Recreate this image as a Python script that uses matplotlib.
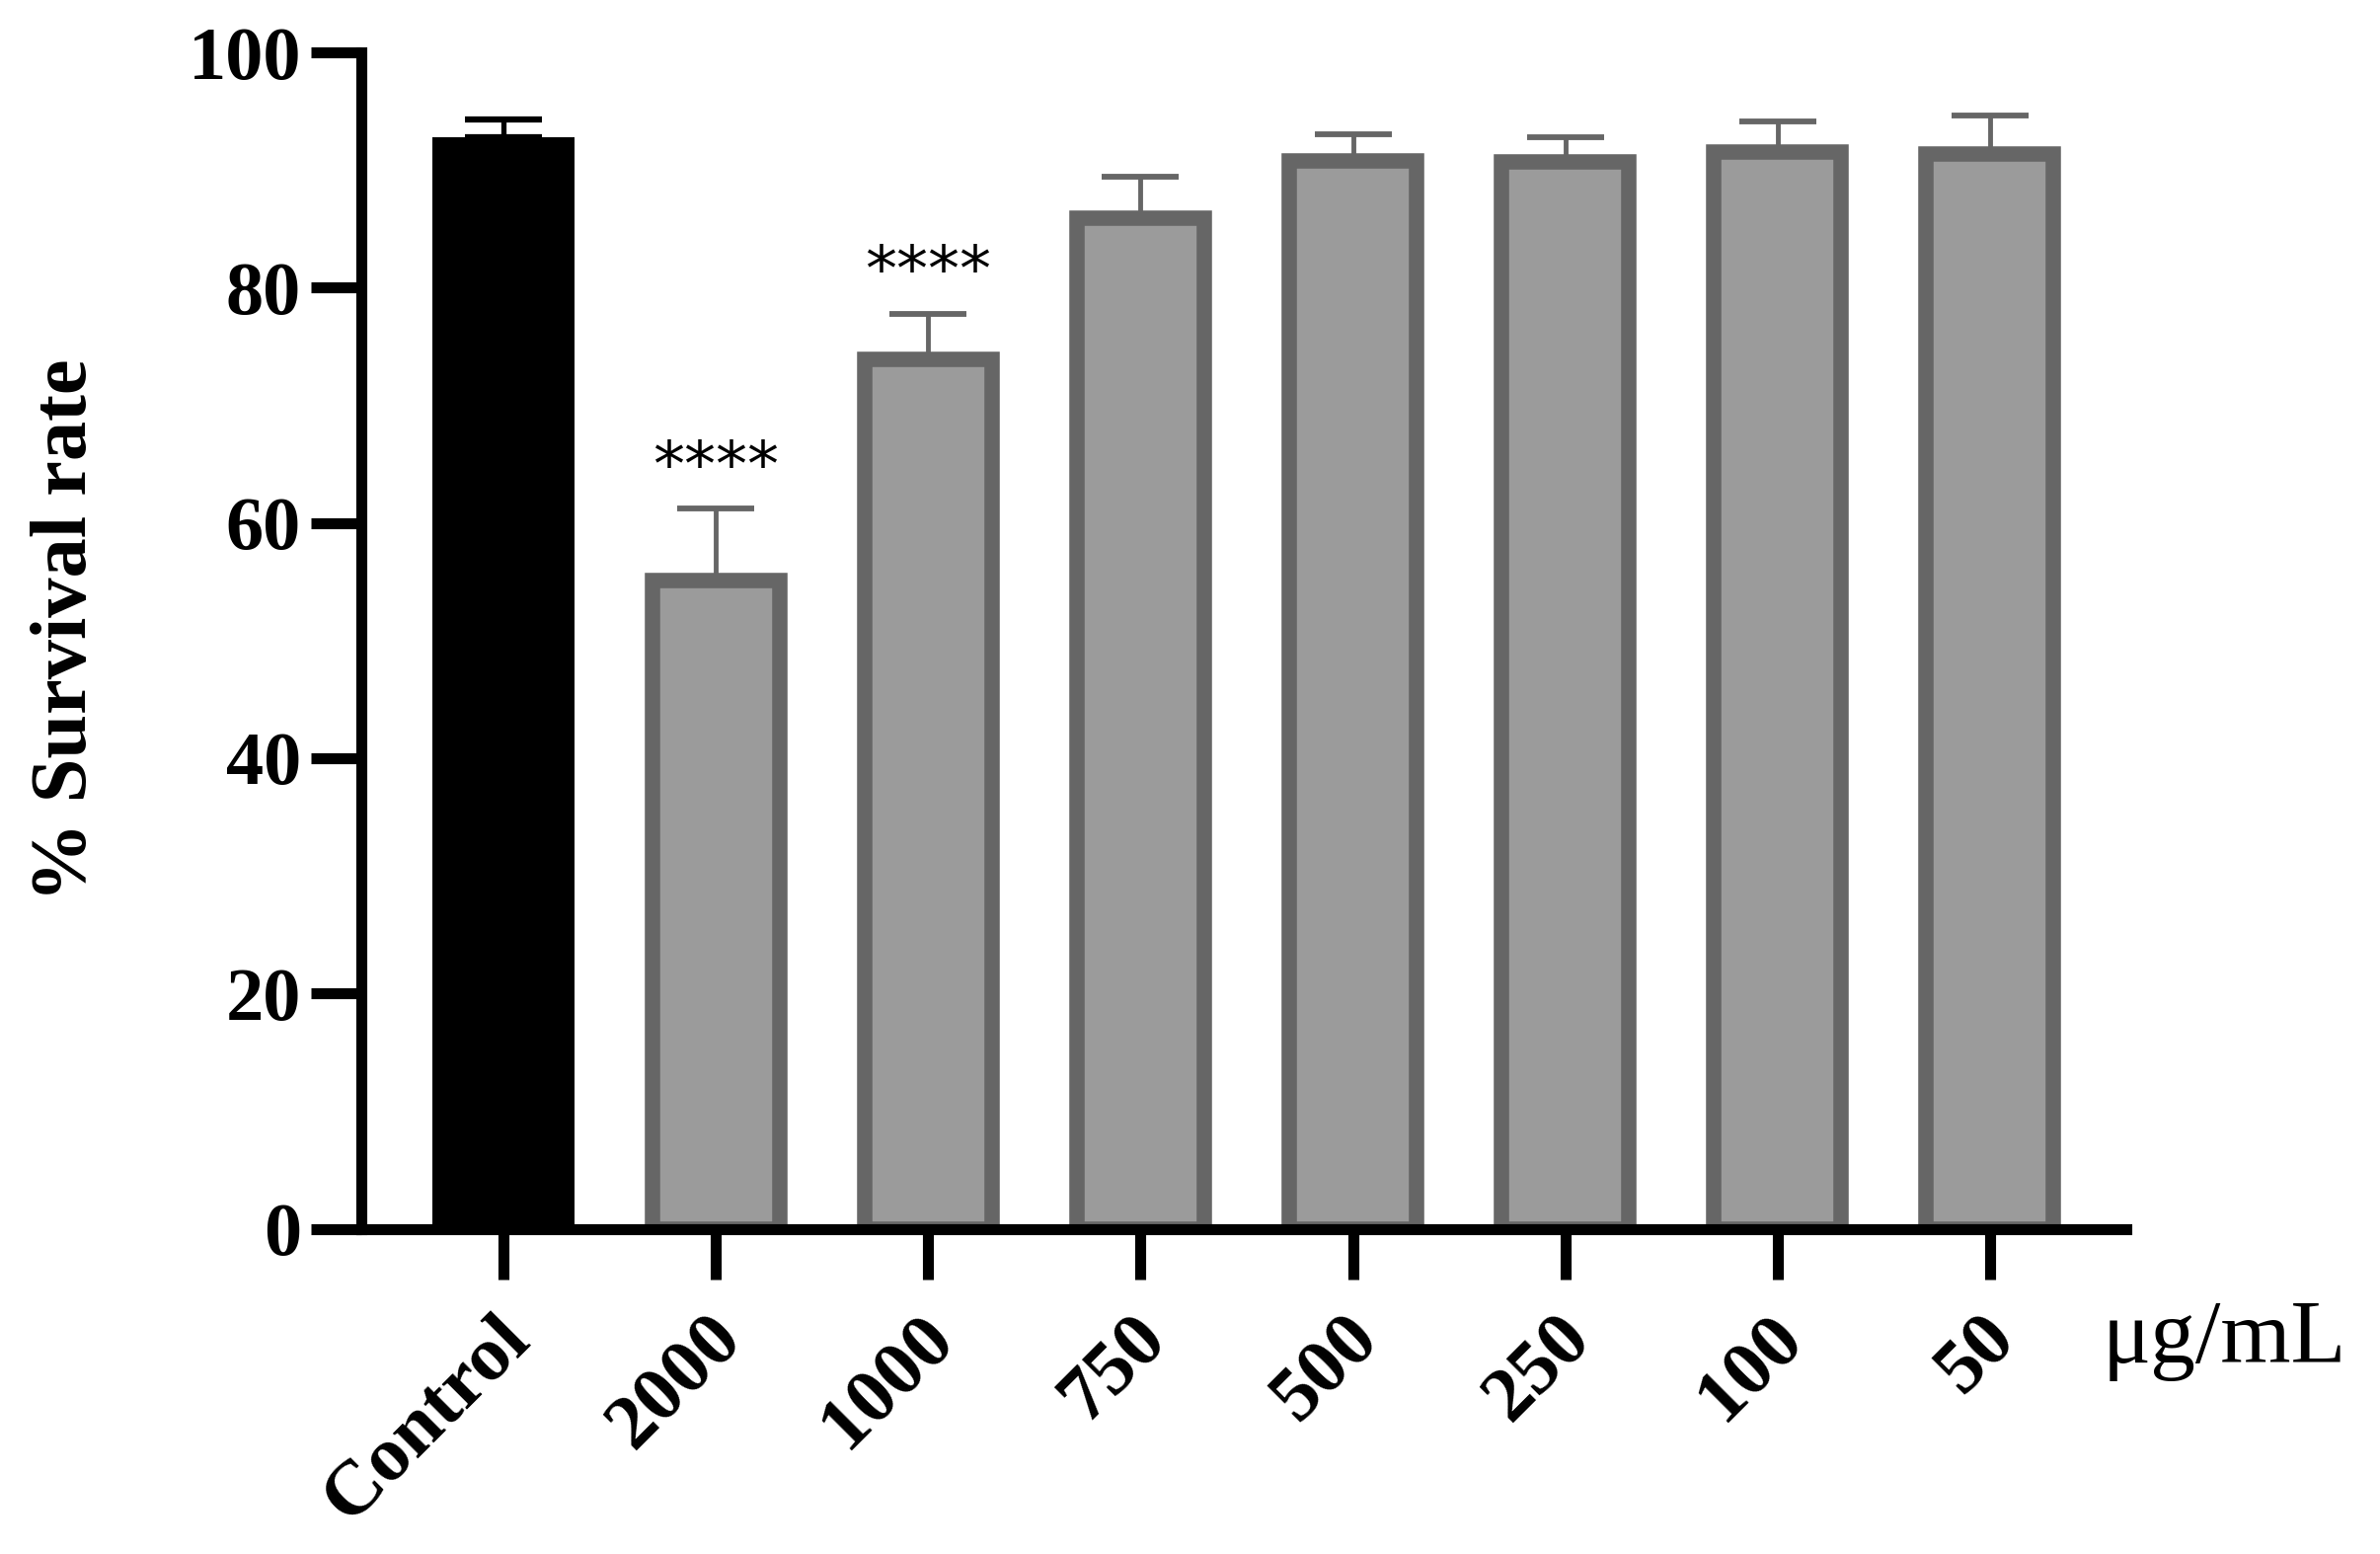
import numpy as np
import matplotlib
matplotlib.use("Agg")
from matplotlib import pyplot as plt
from matplotlib import transforms

# 数据
groups = ['Control', '2000', '1000', '750', '500', '250', '100', '50']
survival = [92.8, 55.1, 73.9, 85.9, 90.8, 90.7, 91.5, 91.4]
err_upper = [1.5, 6.1, 3.9, 3.5, 2.2, 2.1, 2.6, 3.2]
signif = ['', '****', '****', '', '', '', '', '']
yticks = [0, 20, 40, 60, 80, 100]

x = np.arange(len(groups))
survival = np.array(survival)
err_upper = np.array(err_upper)

fig = plt.figure(figsize=(24.11, 15.74), dpi=100)
ax = fig.add_axes([0.1518, 0.2093, 0.8932 - 0.1518, 0.9663 - 0.2093])

fill = ['black'] + ['#9b9b9b'] * 7
edge = ['black'] + ['#666666'] * 7
widths = [0.67] + [0.60] * 7
lws = [0] + [11.2] * 7
ax.bar(x, survival, width=widths, color=fill, edgecolor=edge, linewidth=lws, zorder=2)

# 误差线（只画上方）
ax.errorbar(x[:1], survival[:1], yerr=[np.zeros(1), err_upper[:1]], fmt='none',
            ecolor='black', elinewidth=3.8, capsize=28, capthick=4.5, zorder=1)
ax.errorbar(x[1:], survival[1:], yerr=[np.zeros(7), err_upper[1:]], fmt='none',
            ecolor='#666666', elinewidth=3.5, capsize=28, capthick=4.2, zorder=1)

for i, s in enumerate(signif):
    if s:
        ax.text(x[i], survival[i] + err_upper[i] + 2.0, s, ha='center', va='baseline',
                fontsize=46, family='DejaVu Sans', color='black')

ax.set_xlim(-0.67, 7.64)
ax.set_ylim(0, 100)
for side in ['top', 'right']:
    ax.spines[side].set_visible(False)
for side in ['left', 'bottom']:
    ax.spines[side].set_linewidth(8)

ax.set_yticks(yticks)
ax.set_yticklabels([str(v) for v in yticks], fontsize=55, fontweight='bold', family='Liberation Serif')
ax.set_xticks(x)
ax.set_xticklabels(groups, rotation=45, ha='right', va='top', rotation_mode='anchor',
                   fontsize=57, fontweight='bold', family='Liberation Serif')
ax.tick_params(axis='both', width=8, length=37, color='black')
ax.tick_params(axis='y', pad=7)
ax.tick_params(axis='x', pad=17)

# x刻度标签稍微左移
shift = transforms.ScaledTranslation(-7 / 72, 0, fig.dpi_scale_trans)
for lab in ax.get_xticklabels():
    lab.set_transform(lab.get_transform() + shift)

fig.text(0.0282, 0.5947, '% Survival rate', rotation=90, ha='center', va='center',
         fontsize=58, fontweight='bold', family='Liberation Serif')
fig.text(0.8835, 0.1233, 'μg/mL', ha='left', va='baseline', fontsize=66,
         family='Liberation Serif')

plt.savefig('out.png', dpi=100)
